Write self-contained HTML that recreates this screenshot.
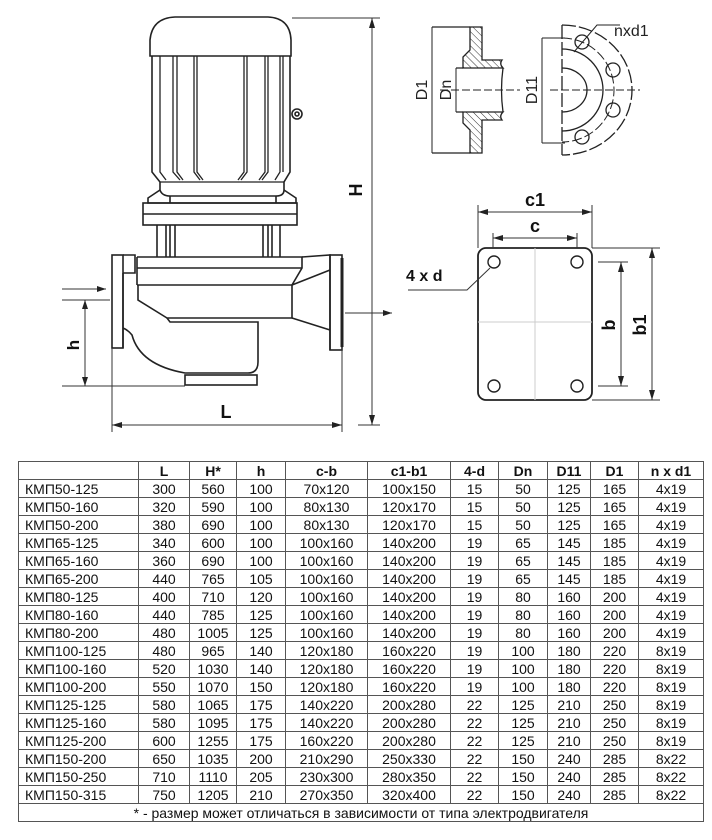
<!DOCTYPE html>
<html><head><meta charset="utf-8"><style>
body{margin:0;background:#fff;width:712px;height:840px;overflow:hidden;position:relative;font-family:"Liberation Sans",sans-serif}
svg{position:absolute;left:0;top:0}
table{position:absolute;left:18px;top:461px;border-collapse:collapse;font-family:"Liberation Sans Narrow","Liberation Sans","DejaVu Sans",sans-serif;font-size:14px;color:#111;table-layout:fixed;width:685px}
td{border:1px solid #555;height:17px;padding:0;text-align:center;line-height:16px;white-space:nowrap;overflow:hidden}
td:first-child{text-align:left;padding-left:6px}
tr.h td{font-weight:bold}
</style></head><body>
<svg width="712" height="460" viewBox="0 0 712 460" fill="none" stroke="#222" stroke-width="1.6">
<!-- motor cap -->
<path d="M150 56 L150 40 Q152 18 175 17 L268 17 Q290 18 291 40 L291 56 Z"/>
<!-- motor body -->
<path d="M152 56 L152 172 L160 182 L160 190 Q162 196 170 196 L276 196 Q284 196 284 190 L284 182 L290 172 L290 56"/>
<g stroke-width="1.3">
<path d="M160 56 V172 L166 180"/><path d="M173 56 V172 L180 180"/><path d="M177 56 V172 L183 180"/>
<path d="M194 56 V172 L200 180"/><path d="M197 56 V172 L203 180"/>
<path d="M244 56 V172 L238 180"/><path d="M247 56 V172 L241 180"/>
<path d="M265 56 V172 L259 180"/><path d="M268 56 V172 L262 180"/>
<path d="M280 56 V172 L275 180"/><path d="M283 56 V172"/>
<path d="M160 182 H284"/>
</g>
<circle cx="297" cy="114" r="5"/><circle cx="297" cy="114" r="2"/>
<!-- adapter -->
<path d="M160 190 L148 198 L148 203 H296 L296 198 L284 190"/>
<path d="M170 196 V203 M276 196 V203"/>
<rect x="143" y="203" width="154" height="22"/><path d="M143 214 H297"/>
<path d="M157 225 V257 M166 225 V257 M170 225 V257 M175 225 V257 M263 225 V257 M268 225 V257 M272 225 V257 M280 225 V257"/>
<!-- pump body -->
<rect x="112" y="255" width="11" height="93"/>
<path d="M123 255 H135 V273 H123"/>
<path d="M137 257 H302 V268 L292 285"/>
<path d="M137 257 V285 M137 268 H302 M137 285 H292"/>
<path d="M138 285 V300 L167 318 H292 V285"/>
<path d="M167 318 L170 322 L258 322 L258 362 Q258 373 248 373 L185 373 Q140 365 132 335 Q128 330 123 328"/>
<path d="M123 273 V348"/>
<rect x="185" y="375" width="72" height="10"/>
<path d="M302 257 L330 255 V350 M292 285 L330 270 M292 318 L330 330"/>
<rect x="330" y="255" width="12" height="95"/>
<path d="M342 258 V347" stroke-width="3"/>
<!-- dims -->
<g stroke-width="1" stroke="#333">
<path d="M292 18 H380 M372 18 V425 M358 425 H380 M112 348 V432 M342 348 V432 M112 425 H342 M62 300 H110 M62 386 H185 M85 300 V386 M345 313 H392"/>
<path d="M62 289 H106"/>
</g>
<g fill="#222" stroke="none">
<path d="M372 18 l-3 10 h6z M372 425 l-3 -10 h6z M112 425 l10 -3 v6z M342 425 l-10 -3 v6z M85 300 l-3 9 h6z M85 386 l-3 -9 h6z M106 289 l-9 -3 v6z M392 313 l-9 -3 v6z"/>
</g>
<g fill="#111" stroke="none" font-weight="bold" font-family="Liberation Sans,sans-serif">
<text x="226" y="418" font-size="18" text-anchor="middle">L</text>
<text transform="translate(362 190) rotate(-90)" font-size="18" text-anchor="middle">H</text>
<text transform="translate(79 345) rotate(-90)" font-size="17" text-anchor="middle">h</text>
</g>
<!-- flange section -->
<defs><pattern id="hat" width="5" height="5" patternUnits="userSpaceOnUse" patternTransform="rotate(-45)"><path d="M0 0 V5" stroke="#333" stroke-width="1"/></pattern></defs>
<g stroke-width="1.3">
<path d="M470 27 H482 V60 H502 Q499 64 503 68 H463 V57 L470 50 Z" fill="url(#hat)"/>
<path d="M470 153 H482 V120 H502 Q499 116 503 112 H463 V123 L470 130 Z" fill="url(#hat)"/>
<path d="M456 68 H463 M456 112 H463 M503 68 Q500 90 503 112"/>
<path d="M432 27 H470 M432 153 H470"/>
<path d="M432 27 V153 M456 68 V112 M542 38 V143 M542 38 H565 M542 143 H565" stroke-width="1"/>
<path d="M440 90 H520 M550 90 H640" stroke-dasharray="8 3" stroke-width="1"/>
<path d="M562 25 A70 65 0 0 1 562 155" stroke-dasharray="14 3"/>
<path d="M562 68 A25 22 0 0 1 562 112 M562 49 A41 41 0 0 1 562 131"/>
<path d="M562 38 A52 52 0 0 1 562 142" stroke-dasharray="10 3" stroke-width="1"/>
<path d="M562 25 V155" stroke-dasharray="14 3"/>
<circle cx="582" cy="42" r="7"/><circle cx="613" cy="70" r="7"/><circle cx="613" cy="110" r="7"/><circle cx="582" cy="137" r="7"/>
<path d="M574 52 L597 25 H620" stroke-width="1"/>
</g>
<g fill="#222" stroke="none" font-family="Liberation Sans,sans-serif" font-size="16">
<text x="614" y="36">nxd1</text>
<text transform="translate(427 90) rotate(-90)" text-anchor="middle">D1</text>
<text transform="translate(451 90) rotate(-90)" text-anchor="middle">Dn</text>
<text transform="translate(537 90) rotate(-90)" text-anchor="middle">D11</text>
</g>
<!-- base plate -->
<rect x="478" y="248" width="114" height="152" rx="8" stroke-width="1.8"/>
<g stroke-width="1.4"><circle cx="494" cy="262" r="6"/><circle cx="577" cy="262" r="6"/><circle cx="494" cy="386" r="6"/><circle cx="577" cy="386" r="6"/></g>
<g stroke-width="1" stroke="#333">
<path d="M478 205 V248 M592 205 V248 M478 212 H592 M493 233 V248 M577 233 V248 M493 238 H577"/>
<path d="M592 248 H660 M598 262 H628 M598 386 H628 M621 262 V386 M652 248 V400 M592 400 H660"/>
<path d="M490 268 L467 290 H408"/>
<path d="M535 248 V400 M478 322 H592" stroke="#ccc"/>
</g>
<g fill="#222" stroke="none">
<path d="M478 212 l10 -3 v6z M592 212 l-10 -3 v6z M493 238 l10 -3 v6z M577 238 l-10 -3 v6z M621 262 l-3 10 h6z M621 386 l-3 -10 h6z M652 248 l-3 10 h6z M652 400 l-3 -10 h6z"/>
</g>
<g fill="#111" stroke="none" font-weight="bold" font-family="Liberation Sans,sans-serif" font-size="18">
<text x="535" y="206" text-anchor="middle">c1</text>
<text x="535" y="232" text-anchor="middle">c</text>
<text x="406" y="281" font-size="16">4 x d</text>
<text transform="translate(615 325) rotate(-90)" text-anchor="middle">b</text>
<text transform="translate(646 325) rotate(-90)" text-anchor="middle">b1</text>
</g>
</svg>
<table>
<colgroup><col style="width:120px"><col style="width:51px"><col style="width:47px"><col style="width:49px"><col style="width:82px"><col style="width:83px"><col style="width:48px"><col style="width:49px"><col style="width:43px"><col style="width:48px"><col style="width:65px"></colgroup>
<tr class="h"><td></td><td>L</td><td>H*</td><td>h</td><td>c-b</td><td>c1-b1</td><td>4-d</td><td>Dn</td><td>D11</td><td>D1</td><td>n x d1</td></tr>
<tr><td>КМП50-125</td><td>300</td><td>560</td><td>100</td><td>70x120</td><td>100x150</td><td>15</td><td>50</td><td>125</td><td>165</td><td>4x19</td></tr>
<tr><td>КМП50-160</td><td>320</td><td>590</td><td>100</td><td>80x130</td><td>120x170</td><td>15</td><td>50</td><td>125</td><td>165</td><td>4x19</td></tr>
<tr><td>КМП50-200</td><td>380</td><td>690</td><td>100</td><td>80x130</td><td>120x170</td><td>15</td><td>50</td><td>125</td><td>165</td><td>4x19</td></tr>
<tr><td>КМП65-125</td><td>340</td><td>600</td><td>100</td><td>100x160</td><td>140x200</td><td>19</td><td>65</td><td>145</td><td>185</td><td>4x19</td></tr>
<tr><td>КМП65-160</td><td>360</td><td>690</td><td>100</td><td>100x160</td><td>140x200</td><td>19</td><td>65</td><td>145</td><td>185</td><td>4x19</td></tr>
<tr><td>КМП65-200</td><td>440</td><td>765</td><td>105</td><td>100x160</td><td>140x200</td><td>19</td><td>65</td><td>145</td><td>185</td><td>4x19</td></tr>
<tr><td>КМП80-125</td><td>400</td><td>710</td><td>120</td><td>100x160</td><td>140x200</td><td>19</td><td>80</td><td>160</td><td>200</td><td>4x19</td></tr>
<tr><td>КМП80-160</td><td>440</td><td>785</td><td>125</td><td>100x160</td><td>140x200</td><td>19</td><td>80</td><td>160</td><td>200</td><td>4x19</td></tr>
<tr><td>КМП80-200</td><td>480</td><td>1005</td><td>125</td><td>100x160</td><td>140x200</td><td>19</td><td>80</td><td>160</td><td>200</td><td>4x19</td></tr>
<tr><td>КМП100-125</td><td>480</td><td>965</td><td>140</td><td>120x180</td><td>160x220</td><td>19</td><td>100</td><td>180</td><td>220</td><td>8x19</td></tr>
<tr><td>КМП100-160</td><td>520</td><td>1030</td><td>140</td><td>120x180</td><td>160x220</td><td>19</td><td>100</td><td>180</td><td>220</td><td>8x19</td></tr>
<tr><td>КМП100-200</td><td>550</td><td>1070</td><td>150</td><td>120x180</td><td>160x220</td><td>19</td><td>100</td><td>180</td><td>220</td><td>8x19</td></tr>
<tr><td>КМП125-125</td><td>580</td><td>1065</td><td>175</td><td>140x220</td><td>200x280</td><td>22</td><td>125</td><td>210</td><td>250</td><td>8x19</td></tr>
<tr><td>КМП125-160</td><td>580</td><td>1095</td><td>175</td><td>140x220</td><td>200x280</td><td>22</td><td>125</td><td>210</td><td>250</td><td>8x19</td></tr>
<tr><td>КМП125-200</td><td>600</td><td>1255</td><td>175</td><td>160x220</td><td>200x280</td><td>22</td><td>125</td><td>210</td><td>250</td><td>8x19</td></tr>
<tr><td>КМП150-200</td><td>650</td><td>1035</td><td>200</td><td>210x290</td><td>250x330</td><td>22</td><td>150</td><td>240</td><td>285</td><td>8x22</td></tr>
<tr><td>КМП150-250</td><td>710</td><td>1110</td><td>205</td><td>230x300</td><td>280x350</td><td>22</td><td>150</td><td>240</td><td>285</td><td>8x22</td></tr>
<tr><td>КМП150-315</td><td>750</td><td>1205</td><td>210</td><td>270x350</td><td>320x400</td><td>22</td><td>150</td><td>240</td><td>285</td><td>8x22</td></tr>
<tr><td colspan="11" style="text-align:center;padding:0">* - размер может отличаться в зависимости от типа электродвигателя</td></tr>
</table>
</body></html>
